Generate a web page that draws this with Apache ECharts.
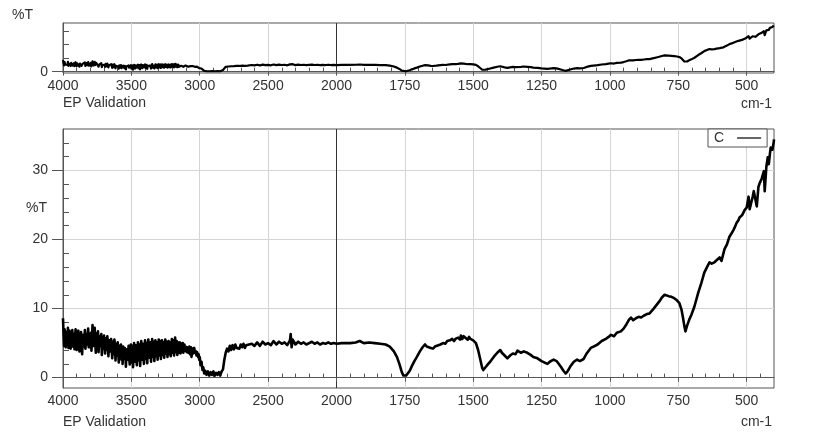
<!DOCTYPE html>
<html>
<head>
<meta charset="utf-8">
<script src="https://cdn.jsdelivr.net/npm/echarts@6/dist/echarts.min.js"></script>
<style>
  html, body { margin: 0; padding: 0; background: #fff; }
  #chart { width: 823px; height: 443px; }
</style>
</head>
<body>
<div id="chart"></div>
<script>
// x axis: 500 cm-1 per division above 2000, 250 cm-1 per division below
const xTickLabels = ['4000', '3500', '3000', '2500', '2000', '1750', '1500', '1250', '1000', '750', '500']
const scaleBreak = 2000
const xStart = 4000
const xEnd = 400
const yTicksMain = [0, 10, 20, 30]

// noisy O-H region, sampled every 4 cm-1 from 4000 down to 3004 (%T)
const bandStart = 4000
const bandStep = 4
const bandValues = [
  8.6, 6.2, 4.6, 7.0, 5.3, 4.4, 6.6, 5.8, 4.9, 7.2,
  4.3, 5.9, 6.8, 4.8, 4.2, 6.5, 5.1, 6.9, 4.5, 5.6,
  6.3, 4.1, 5.2, 7.0, 5.5, 4.0, 6.1, 4.7, 6.8, 5.0,
  3.8, 6.0, 5.4, 6.6, 4.3, 3.4, 5.8, 6.2, 4.5, 5.1,
  6.9, 4.2, 5.6, 6.3, 4.8, 5.0, 7.1, 4.4, 6.0, 5.2,
  4.4, 6.5, 3.9, 5.7, 7.6, 6.1, 4.6, 5.3, 7.2, 4.9,
  3.6, 6.4, 5.0, 4.8, 6.7, 3.7, 5.2, 6.0, 4.6, 5.5,
  6.3, 3.3, 4.9, 5.9, 4.2, 6.1, 5.0, 3.5, 5.7, 4.4,
  4.0, 6.0, 5.1, 3.1, 4.6, 5.4, 3.8, 5.0, 5.6, 4.2,
  2.8, 5.2, 4.0, 3.4, 5.5, 4.6, 2.5, 4.3, 4.9, 3.2,
  5.1, 3.8, 2.2, 4.6, 4.0, 3.0, 4.8, 2.6, 3.9, 2.0,
  4.5, 3.5, 2.7, 4.3, 3.6, 1.6, 3.8, 4.1, 2.6, 3.4,
  4.6, 2.9, 1.9, 4.0, 4.8, 2.2, 3.5, 4.6, 1.5, 3.1,
  5.0, 3.7, 2.3, 4.7, 3.0, 1.8, 4.2, 5.1, 2.5, 3.6,
  4.8, 1.7, 3.3, 5.3, 4.0, 2.6, 4.9, 3.1, 2.0, 4.4,
  5.4, 2.7, 3.8, 5.0, 2.1, 4.1, 5.5, 3.4, 2.9, 4.6,
  5.1, 2.3, 3.9, 5.6, 3.0, 4.5, 5.2, 2.4, 3.6, 5.4,
  3.1, 4.2, 5.1, 2.6, 3.9, 5.5, 3.2, 4.4, 5.3, 2.7,
  4.0, 5.4, 3.3, 4.7, 5.1, 2.9, 4.3, 5.5, 3.5, 4.8,
  5.2, 3.0, 4.1, 5.3, 3.4, 4.6, 5.1, 3.1, 4.4, 5.6,
  3.6, 4.7, 5.4, 3.2, 4.2, 5.8, 3.7, 4.9, 5.3, 3.3,
  4.5, 5.1, 3.6, 4.8, 5.1, 3.5, 4.3, 4.9, 3.8, 5.0,
  3.6, 4.4, 4.8, 3.9, 4.5, 4.7, 3.7, 4.4, 4.6, 3.6,
  4.2, 4.5, 3.4, 4.1, 4.4, 3.0, 3.8, 4.2, 3.5, 4.0,
  4.3, 3.6, 3.9, 4.1, 3.2, 3.7, 3.9, 3.0, 3.4, 2.6
]

// rest of the sample "C" spectrum, [wavenumber cm-1, %T]
const spectrumC = [
  [3000, 3.0], [2994, 1.8], [2987, 2.3], [2980, 1.1], [2974, 1.5], [2967, 0.6],
  [2960, 1.0], [2950, 0.4], [2940, 0.9], [2930, 0.3], [2920, 0.8], [2910, 0.4], [2900, 0.9], [2890, 0.3],
  [2880, 0.7], [2870, 0.4], [2860, 0.8], [2850, 0.3], [2840, 0.9], [2830, 1.2], [2820, 2.6], [2810, 3.6],
  [2800, 4.2], [2790, 3.8], [2780, 4.6], [2770, 4.0], [2760, 4.7], [2750, 4.1], [2740, 4.8], [2730, 4.3],
  [2720, 4.5], [2710, 4.2], [2700, 4.8], [2690, 4.4], [2680, 4.9], [2670, 4.3], [2660, 4.7], [2650, 4.5],
  [2620, 4.9], [2600, 4.6], [2580, 5.1], [2560, 4.6], [2540, 5.2], [2520, 4.8], [2500, 5.0], [2480, 4.7],
  [2460, 5.3], [2440, 4.8], [2420, 5.2], [2400, 4.9], [2380, 5.1], [2360, 4.7], [2340, 5.4], [2335, 6.3],
  [2328, 4.4], [2320, 5.5], [2300, 4.8], [2280, 5.2], [2260, 4.9], [2240, 5.1], [2220, 4.8], [2200, 5.0],
  [2180, 5.2], [2160, 4.9], [2140, 5.1], [2120, 4.8], [2100, 5.0], [2080, 4.9], [2060, 5.1], [2040, 4.9],
  [2020, 5.0], [2000, 4.9], [1980, 5.0], [1950, 5.0], [1930, 5.1], [1915, 5.3], [1900, 5.0], [1880, 5.1],
  [1860, 5.0], [1840, 4.9], [1820, 4.8], [1805, 4.5], [1790, 3.8], [1779, 3.0], [1770, 2.0], [1761, 0.8],
  [1755, 0.3], [1745, 0.3], [1739, 0.4], [1732, 1.0], [1724, 1.7], [1715, 2.4], [1706, 3.0], [1695, 3.8],
  [1685, 4.4], [1676, 4.8], [1670, 4.5], [1665, 4.7], [1655, 4.3], [1647, 4.2], [1640, 4.5], [1635, 4.4],
  [1620, 4.8], [1610, 5.0], [1602, 4.9], [1595, 5.3], [1585, 5.4], [1577, 5.6], [1570, 5.3], [1565, 5.6],
  [1555, 5.8], [1548, 5.5], [1545, 6.1], [1540, 5.6], [1535, 6.0], [1530, 5.8], [1520, 5.5], [1515, 5.9],
  [1510, 5.6], [1500, 5.4], [1490, 5.0], [1482, 4.0], [1475, 2.8], [1467, 1.4], [1463, 1.1],
  [1455, 1.5], [1445, 2.0], [1438, 2.3], [1425, 3.0], [1412, 3.6], [1401, 4.0], [1395, 3.6], [1385, 3.2],
  [1375, 2.8], [1365, 3.2], [1355, 3.5], [1345, 3.4], [1338, 3.9], [1325, 3.6], [1315, 3.8], [1302, 3.6],
  [1290, 3.3], [1280, 3.0], [1265, 2.8], [1250, 2.4], [1240, 2.2], [1228, 2.0], [1220, 2.3], [1206, 2.6],
  [1195, 2.4], [1180, 1.6], [1170, 1.0], [1162, 0.6], [1155, 0.9], [1145, 1.6], [1132, 2.3], [1120, 2.6],
  [1110, 2.4], [1096, 2.7], [1085, 3.5], [1070, 4.3], [1060, 4.5], [1045, 4.8], [1030, 5.3], [1015, 5.6],
  [1005, 5.9], [996, 6.2], [985, 6.0], [975, 6.5], [960, 6.7], [950, 7.1], [940, 7.7], [930, 8.4],
  [923, 8.7], [915, 8.3], [905, 8.6], [895, 8.8], [886, 8.7], [875, 9.0], [865, 9.2], [855, 9.3],
  [849, 9.5], [840, 10.0], [830, 10.5], [820, 11.0], [810, 11.6], [800, 12.0], [794, 12.0], [785, 11.8],
  [775, 11.7], [765, 11.5], [755, 11.2], [746, 10.8], [738, 9.8], [732, 8.5], [728, 7.5], [724, 6.7],
  [718, 7.5], [710, 8.4], [702, 9.1], [691, 10.3], [677, 12.3], [665, 13.8], [655, 15.2], [645, 16.0],
  [636, 16.7], [628, 16.5], [618, 16.7], [610, 17.0], [599, 17.4], [592, 16.9], [585, 18.0], [581, 18.6],
  [572, 19.3], [563, 20.4], [555, 20.9], [548, 21.4], [542, 21.9], [537, 22.4], [530, 22.8], [526, 23.2],
  [517, 23.5], [507, 24.3], [500, 24.6], [493, 26.2], [489, 24.4], [485, 24.6], [478, 26.2], [474, 27.0],
  [468, 25.8], [463, 24.8], [457, 27.6], [452, 28.2], [445, 28.8], [437, 29.9], [434, 27.0], [428, 30.5],
  [423, 31.9], [419, 30.9], [415, 32.4], [412, 33.3], [406, 33.0], [401, 34.1], [400, 34.5]
]

const textColor = '#333'
const frameColor = '#555'
const gridColor = '#d4d4d4'
const font = 'Liberation Sans, Arial, sans-serif'

// wavenumber -> axis position (one unit per labelled division)
function toAxis(wn) {
  if (wn >= scaleBreak) return (xStart - wn) / 500
  return 4 + (scaleBreak - wn) / 250
}

const axisMax = toAxis(xEnd)
const majorX = xTickLabels.map((_, i) => i)
const minorX = []
for (let i = 1; i * 0.2 < axisMax; i++) {
  if (i % 5 !== 0) minorX.push(Math.round(i * 2) / 10)
}
const minorY = []
for (let v = 2; v <= 34; v += 2) {
  if (v % 10 !== 0) minorY.push(v)
}

const fullSpectrum = bandValues
  .map((t, i) => [bandStart - i * bandStep, t])
  .concat(spectrumC)
const seriesData = fullSpectrum.map(([wn, t]) => [toAxis(wn), t])

function xAxes(gridIndex) {
  return [
    {
      type: 'value',
      gridIndex,
      min: 0,
      max: axisMax,
      axisLine: { show: true, lineStyle: { color: frameColor } },
      axisTick: { show: true, customValues: majorX, length: 4, lineStyle: { color: frameColor } },
      axisLabel: {
        customValues: majorX,
        margin: 6,
        color: textColor,
        fontSize: 14,
        fontFamily: font,
        formatter: (v) => xTickLabels[Math.round(v)] || ''
      },
      splitLine: {
        show: true,
        lineStyle: {
          color: majorX.map((i) => (i === 4 ? '#333' : gridColor)),
          width: 1
        }
      }
    },
    {
      type: 'value',
      gridIndex,
      min: 0,
      max: axisMax,
      axisLine: { show: false },
      axisTick: { show: true, customValues: minorX, length: 4, lineStyle: { color: frameColor } },
      axisLabel: { show: false },
      splitLine: { show: false }
    }
  ]
}

function yAxes(gridIndex, min, max, majorTicks, labels, minorTicks, showSplit) {
  return [
    {
      type: 'value',
      gridIndex,
      min,
      max,
      axisLine: { show: true, lineStyle: { color: frameColor } },
      axisTick: { show: true, customValues: majorTicks, length: 11, lineStyle: { color: frameColor } },
      axisLabel: {
        customValues: labels,
        margin: 15,
        color: textColor,
        fontSize: 14,
        fontFamily: font
      },
      splitLine: { show: showSplit, lineStyle: { color: gridColor } }
    },
    {
      type: 'value',
      gridIndex,
      min,
      max,
      axisLine: { show: false },
      axisTick: { show: true, customValues: minorTicks, length: 6, lineStyle: { color: frameColor } },
      axisLabel: { show: false },
      splitLine: { show: false }
    }
  ]
}

const chart = echarts.init(document.getElementById('chart'), null, { renderer: 'canvas' })

chart.setOption({
  animation: false,
  backgroundColor: '#fff',
  grid: [
    { left: 63, right: 49, top: 23, height: 50, show: true, borderColor: frameColor, borderWidth: 1 },
    { left: 63, right: 49, top: 129, height: 259, show: true, borderColor: frameColor, borderWidth: 1 }
  ],
  legend: {
    data: [{ name: 'C', icon: 'path://M0,0L40,0L40,2L0,2Z' }],
    left: 708,
    top: 129,
    align: 'right',
    padding: [2, 6, 2, 6],
    borderColor: frameColor,
    borderWidth: 1,
    backgroundColor: '#fff',
    itemWidth: 24,
    itemHeight: 14,
    textStyle: { color: textColor, fontSize: 14, fontFamily: font, padding: [0, 8, 0, 0] }
  },
  xAxis: [...xAxes(0), ...xAxes(1)],
  yAxis: [
    ...yAxes(0, -1, 36, [0], [0], [10, 20, 30], false),
    ...yAxes(1, -1.5, 36, yTicksMain, yTicksMain, minorY, true)
  ],
  graphic: [
    { type: 'text', left: 12, top: 8, style: { text: '%T', fill: textColor, font: '14px ' + font } },
    { type: 'text', left: 63, top: 96, style: { text: 'EP Validation', fill: textColor, font: '14px ' + font } },
    { type: 'text', right: 51, top: 97, style: { text: 'cm-1', fill: textColor, font: '14px ' + font } },
    { type: 'text', left: 26, top: 201, style: { text: '%T', fill: textColor, font: '14px ' + font } },
    { type: 'text', left: 63, top: 415, style: { text: 'EP Validation', fill: textColor, font: '14px ' + font } },
    { type: 'text', right: 51, top: 415, style: { text: 'cm-1', fill: textColor, font: '14px ' + font } }
  ],
  series: [
    {
      name: 'overview',
      type: 'line',
      xAxisIndex: 0,
      yAxisIndex: 0,
      data: seriesData,
      symbol: 'none',
      lineStyle: { color: '#000', width: 2.2, join: 'round' },
      silent: true
    },
    {
      name: 'C',
      type: 'line',
      xAxisIndex: 2,
      yAxisIndex: 2,
      data: seriesData,
      symbol: 'none',
      lineStyle: { color: '#000', width: 2.6, join: 'round' },
      itemStyle: { color: '#000' },
      silent: true
    }
  ]
})
</script>
</body>
</html>
